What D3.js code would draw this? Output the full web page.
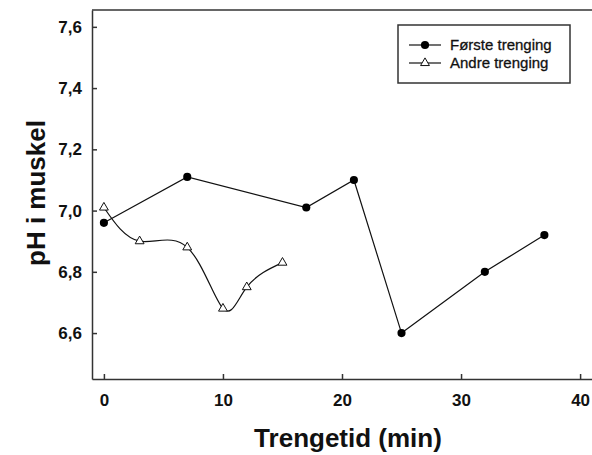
<!DOCTYPE html>
<html>
<head>
<meta charset="utf-8">
<script src="https://cdn.jsdelivr.net/npm/d3@7"></script>
<style>
  body { margin: 0; background: #fff; }
  svg { display: block; font-family: 'Liberation Sans', Arial, sans-serif; }
  .axis path, .axis line { stroke: #333; stroke-width: 1.5; }
  .axis text { font-size: 17px; font-weight: bold; fill: #111; }
</style>
</head>
<body>
<div id="viz"></div>
<script>
// Første trenging
const firstTime = [0, 7, 17, 21, 25, 32, 37];
const firstPH = [6.96, 7.11, 7.01, 7.10, 6.60, 6.80, 6.92];
// Andre trenging
const secondTime = [0, 3, 7, 10, 12, 15];
const secondPH = [7.01, 6.90, 6.88, 6.68, 6.75, 6.83];

const xTickValues = [0, 10, 20, 30, 40];
const yTickValues = [6.6, 6.8, 7.0, 7.2, 7.4, 7.6];
const seriesNames = ['Første trenging', 'Andre trenging'];

const width = 592;
const height = 455;
const margin = { top: 10, right: 0, bottom: 76, left: 92 };

const first = firstTime.map((t, i) => ({ t, ph: firstPH[i] }));
const second = secondTime.map((t, i) => ({ t, ph: secondPH[i] }));

const xScale = d3.scaleLinear()
  .domain([-1, 41])
  .range([margin.left, width - margin.right]);

const yScale = d3.scaleLinear()
  .domain([6.45, 7.655])
  .range([height - margin.bottom, margin.top]);

const svg = d3.select('#viz')
  .append('svg')
  .attr('width', width)
  .attr('height', height);

// top frame line
svg.append('line')
  .attr('x1', margin.left).attr('x2', width)
  .attr('y1', margin.top).attr('y2', margin.top)
  .attr('stroke', '#333')
  .attr('stroke-width', 1.5);

const commaFmt = (d) => d3.format('.1f')(d).replace('.', ',');

svg.append('g')
  .attr('class', 'axis')
  .attr('transform', `translate(0, ${height - margin.bottom})`)
  .call(d3.axisBottom(xScale).tickValues(xTickValues)
    .tickSizeInner(-5).tickSizeOuter(0).tickPadding(15));

svg.append('g')
  .attr('class', 'axis')
  .attr('transform', `translate(${margin.left}, 0)`)
  .call(d3.axisLeft(yScale).tickValues(yTickValues).tickFormat(commaFmt)
    .tickSizeInner(-5).tickSizeOuter(0).tickPadding(10));

// axis titles
svg.append('text')
  .attr('x', 348)
  .attr('y', 447)
  .attr('text-anchor', 'middle')
  .style('font-size', '26px')
  .style('font-weight', 'bold')
  .attr('fill', '#111')
  .text('Trengetid (min)');

svg.append('text')
  .attr('transform', 'translate(45, 193) rotate(-90)')
  .attr('text-anchor', 'middle')
  .style('font-size', '26px')
  .style('font-weight', 'bold')
  .attr('fill', '#111')
  .text('pH i muskel');

// lines
const straight = d3.line()
  .x((d) => xScale(d.t))
  .y((d) => yScale(d.ph));

const smooth = d3.line()
  .x((d) => xScale(d.t))
  .y((d) => yScale(d.ph))
  .curve(d3.curveNatural);

svg.append('path')
  .datum(first)
  .attr('d', straight)
  .attr('fill', 'none')
  .attr('stroke', '#111')
  .attr('stroke-width', 1.2);

svg.append('path')
  .datum(second)
  .attr('d', smooth)
  .attr('fill', 'none')
  .attr('stroke', '#111')
  .attr('stroke-width', 1.2);

const circleSym = d3.symbol().type(d3.symbolCircle).size(52);
const triSym = d3.symbol().type(d3.symbolTriangle).size(34);

svg.append('g').selectAll('path')
  .data(first)
  .enter().append('path')
    .attr('d', circleSym)
    .attr('transform', (d) => `translate(${xScale(d.t)}, ${yScale(d.ph)})`)
    .attr('fill', '#000');

svg.append('g').selectAll('path')
  .data(second)
  .enter().append('path')
    .attr('d', triSym)
    .attr('transform', (d) => `translate(${xScale(d.t)}, ${yScale(d.ph)})`)
    .attr('fill', '#fff')
    .attr('stroke', '#111')
    .attr('stroke-width', 1);

// legend
const legend = svg.append('g')
  .attr('transform', 'translate(398, 25)');

legend.append('rect')
  .attr('width', 172)
  .attr('height', 58)
  .attr('fill', '#fff')
  .attr('stroke', '#333')
  .attr('stroke-width', 1.5);

const symbols = [circleSym, triSym];
seriesNames.forEach((name, i) => {
  const row = legend.append('g')
    .attr('transform', `translate(0, ${20 + i * 18})`);
  row.append('line')
    .attr('x1', 11).attr('x2', 43)
    .attr('stroke', '#111')
    .attr('stroke-width', 1.2);
  row.append('path')
    .attr('d', symbols[i])
    .attr('transform', 'translate(27, 0)')
    .attr('fill', i === 0 ? '#000' : '#fff')
    .attr('stroke', '#111')
    .attr('stroke-width', i === 0 ? 0 : 1);
  row.append('text')
    .attr('x', 52)
    .attr('dy', '0.36em')
    .style('font-size', '15px')
    .attr('fill', '#111')
    .attr('stroke', '#111')
    .attr('stroke-width', 0.3)
    .text(name);
});
</script>
</body>
</html>
